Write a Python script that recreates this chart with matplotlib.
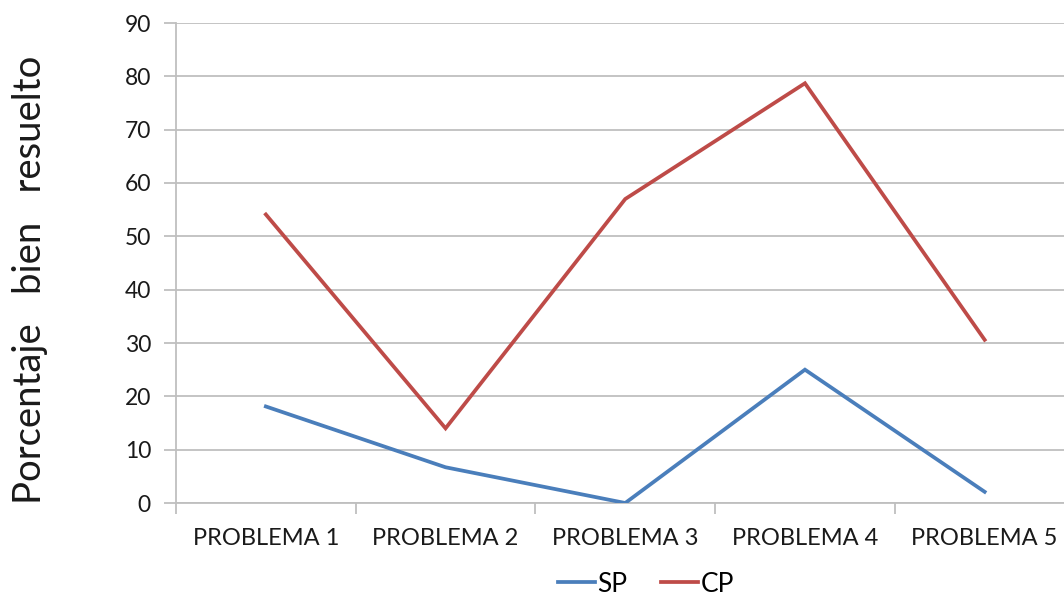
import matplotlib
matplotlib.use("Agg")
import matplotlib.pyplot as plt
from matplotlib.lines import Line2D

categories = ["PROBLEMA 1", "PROBLEMA 2", "PROBLEMA 3", "PROBLEMA 4", "PROBLEMA 5"]
sp_values = [18.1, 6.7, 0.0, 25.0, 2.1]
cp_values = [54.1, 14.0, 57.0, 78.7, 30.6]
y_ticks = [0, 10, 20, 30, 40, 50, 60, 70, 80, 90]
series_names = ["SP", "CP"]

SP_COLOR = "#4a7ebb"
CP_COLOR = "#be4b48"
GRID = "#bfbfbf"
TEXT = "#1a1a1a"
FONT = "Lato"

W, H = 1064, 601
fig = plt.figure(figsize=(W / 100, H / 100), dpi=100)
left, right, bottom, top = 176, 1074.5, 503, 23
ax = fig.add_axes([left / W, (H - bottom) / H, (right - left) / W, (bottom - top) / H])

x = list(range(len(categories)))
ax.plot(x, sp_values, color=SP_COLOR, lw=2.7, solid_joinstyle="miter", zorder=3)
ax.plot(x, cp_values, color=CP_COLOR, lw=2.7, solid_joinstyle="miter", zorder=3)

ax.set_xlim(-0.5, len(categories) - 0.5)
ax.set_ylim(0, 90)
ax.set_yticks(y_ticks)
ax.set_yticklabels([str(v) for v in y_ticks], fontsize=16.5, family=FONT, color=TEXT)
ax.yaxis.grid(True, color=GRID, lw=1.3)
ax.set_axisbelow(True)

# category boundaries carry the tick marks; labels sit at the centres
ax.set_xticks([i - 0.5 for i in range(len(categories) + 1)])
ax.set_xticklabels([])
ax.set_xticks(x, minor=True)
ax.set_xticklabels(categories, minor=True, fontsize=17, family=FONT, color=TEXT)
ax.tick_params(axis="x", which="major", length=8, width=1.3, color=GRID, direction="out")
ax.tick_params(axis="x", which="minor", length=0, pad=18)
ax.tick_params(axis="y", length=9, width=1.3, color=GRID, pad=9)

for s in ["top", "right"]:
    ax.spines[s].set_visible(False)
for s in ["left", "bottom"]:
    ax.spines[s].set_color(GRID)
    ax.spines[s].set_linewidth(1.3)

fig.text(30 / W, 1 - 280 / H, "Porcentaje   bien   resuelto", rotation=90,
         ha="center", va="center", fontsize=27.5, family=FONT, color=TEXT)

handles = [Line2D([], [], color=SP_COLOR, lw=2.7), Line2D([], [], color=CP_COLOR, lw=2.7)]
fig.legend(handles, series_names, loc="center", bbox_to_anchor=(646 / W, 1 - 584 / H),
           ncol=2, frameon=False, handlelength=1.4, handletextpad=0.1,
           columnspacing=1.3, borderpad=0, prop={"family": FONT, "size": 19})

fig.savefig("out.png", dpi=100)
